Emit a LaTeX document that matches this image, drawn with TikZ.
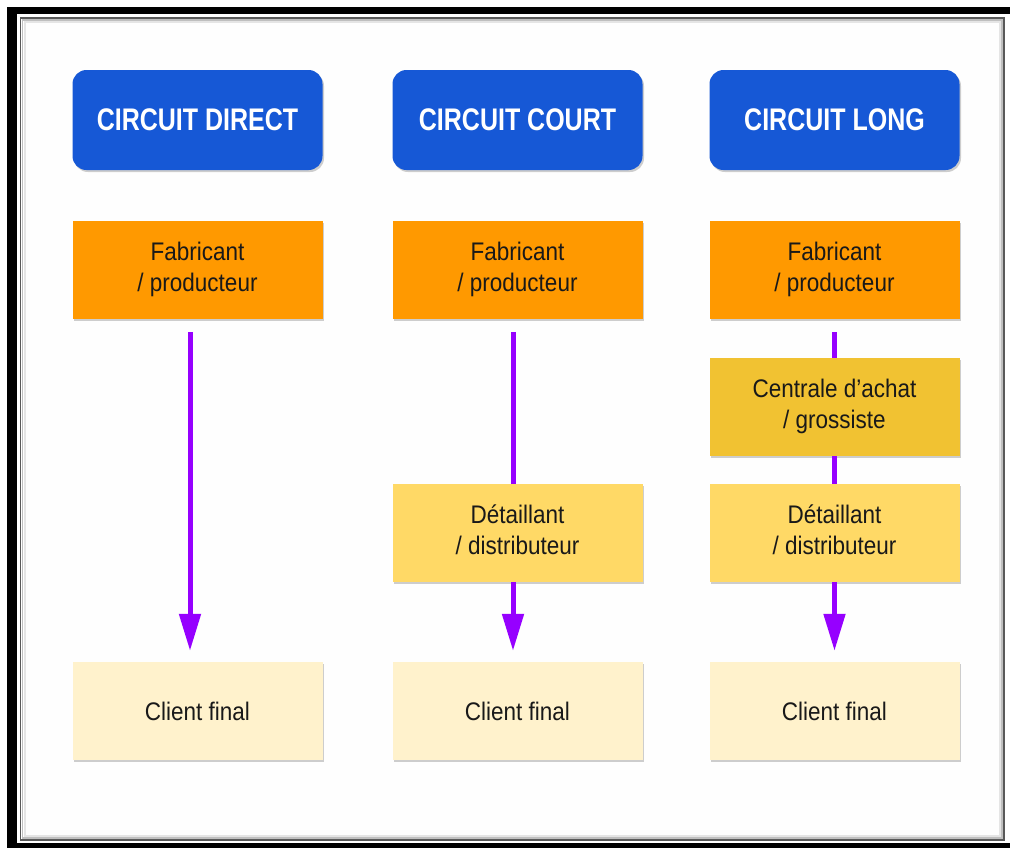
\documentclass[tikz,border=0pt]{standalone}
\usepackage{fontspec}
\usepackage{graphicx}
\setmainfont{Liberation Sans}
\usetikzlibrary{arrows.meta,shadows}
\definecolor{hdrblue}{RGB}{22,88,214}
\definecolor{orangebox}{RGB}{255,153,0}
\definecolor{goldbox}{RGB}{241,194,50}
\definecolor{yellowbox}{RGB}{255,217,102}
\definecolor{paleyellow}{RGB}{255,242,204}
\definecolor{arrowpurple}{RGB}{150,0,255}
\definecolor{textdark}{RGB}{25,25,25}
\newcommand{\bodytxt}[1]{\scalebox{1}[1.13]{\begin{tabular}{@{}c@{}}#1\end{tabular}}}
\newcommand{\onetxt}[1]{\scalebox{1}[1.13]{#1}}
\newcommand{\hdrtxt}[1]{\scalebox{1}[1.25]{#1}}
\begin{document}
\begin{tikzpicture}[x=1pt,y=-1pt,
  box/.style={minimum width=250pt, minimum height=98pt, inner sep=0pt, align=center,
    text=textdark, font=\fontsize{22.5}{27}\selectfont,
    drop shadow={shadow xshift=1.5pt, shadow yshift=-2pt, opacity=0.35, fill=black!55}},
  hdr/.style={box, fill=hdrblue, text=white, rounded corners=14pt, minimum height=100pt,
    font=\bfseries\fontsize{25}{30}\selectfont},
  fabbox/.style={box, fill=orangebox},
  centbox/.style={box, fill=goldbox},
  detbox/.style={box, fill=yellowbox},
  clientbox/.style={box, fill=paleyellow},
  flow/.style={draw=arrowpurple, line width=5pt},
  arr/.style={flow, -{Triangle[length=37pt,width=21pt]}}
]
\useasboundingbox (0,0) rectangle (1010,852);
% frame
\fill[black] (7,7) rectangle (1010,848);
\fill[white] (17,14) rectangle (1010,843);
\draw[black!65, line width=1.2pt] (20.5,18) rectangle (1004,840);
\draw[black!25, line width=1.5pt] (22.5,20) rectangle (1002,838);
\draw[black!10, line width=2pt] (24.5,22) rectangle (1000,836);
\fill[white!99.5!black] (25.5,23) rectangle (999,835);

% headers
\node[hdr] (h1) at (197.5,120) {\hdrtxt{CIRCUIT DIRECT}};
\node[hdr] (h2) at (517.5,120) {\hdrtxt{CIRCUIT COURT}};
\node[hdr] (h3) at (834.5,120) {\hdrtxt{CIRCUIT LONG}};

% column 1
\node[fabbox] (fab1) at (197.5,270) {\bodytxt{Fabricant\\/ producteur}};
\node[clientbox] (client1) at (197.5,711) {\onetxt{Client final}};

% column 2
\node[fabbox] (fab2) at (517.5,270) {\bodytxt{Fabricant\\/ producteur}};
\node[detbox] (det2) at (517.5,533) {\bodytxt{Détaillant\\/ distributeur}};
\node[clientbox] (client2) at (517.5,711) {\onetxt{Client final}};

% column 3
\node[fabbox] (fab3) at (834.5,270) {\bodytxt{Fabricant\\/ producteur}};
\node[centbox] (cent3) at (834.5,407) {\bodytxt{Centrale d’achat\\/ grossiste}};
\node[detbox] (det3) at (834.5,533) {\bodytxt{Détaillant\\/ distributeur}};
\node[clientbox] (client3) at (834.5,711) {\onetxt{Client final}};

% connectors
\draw[arr] ([xshift=-7.5pt,yshift=-13pt]fab1.south) -- ([xshift=-7.5pt,yshift=11pt]client1.north);

\draw[flow] ([xshift=-4.5pt,yshift=-13pt]fab2.south) -- ([xshift=-4.5pt]det2.north);
\draw[arr] ([xshift=-4.5pt]det2.south) -- ([xshift=-4.5pt,yshift=11pt]client2.north);

\draw[flow] ([yshift=-13pt]fab3.south) -- (cent3.north);
\draw[flow] (cent3.south) -- (det3.north);
\draw[arr] (det3.south) -- ([yshift=11pt]client3.north);
\end{tikzpicture}
\end{document}
